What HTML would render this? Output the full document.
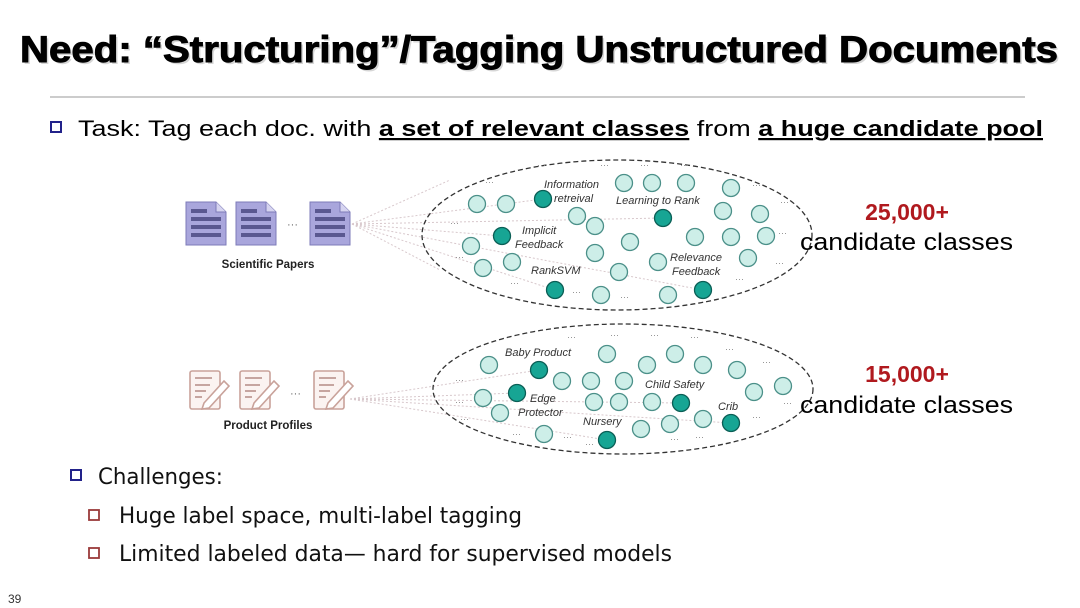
<!DOCTYPE html>
<html><head><meta charset="utf-8"><style>
html,body{margin:0;padding:0;background:#fff;}
svg{display:block;}
</style></head><body>
<svg width="1080" height="608" viewBox="0 0 1080 608" xmlns="http://www.w3.org/2000/svg" font-family="Liberation Sans, sans-serif">
<defs>
<g id="paper">
<path d="M0,0 H30 L40,10 V43 H0 Z" fill="#a9a6dc" stroke="#7d7bb8" stroke-width="1"/>
<path d="M30,0 V10 H40" fill="#d6d4f0" stroke="#7d7bb8"/>
<rect x="5" y="7" width="16" height="4" fill="#5a5890"/>
<rect x="5" y="15" width="30" height="4" fill="#5a5890"/>
<rect x="5" y="23" width="30" height="4" fill="#5a5890"/>
<rect x="5" y="31" width="30" height="4" fill="#5a5890"/>
</g>
<g id="prod" fill="none" stroke="#c9a29a" stroke-width="1.6">
<rect x="0" y="0" width="30" height="38" rx="2" fill="#fbf3f1"/>
<path d="M5,7 H22 M5,14 H20 M5,20 H16 M5,26 H12" stroke="#b48b85"/>
<path d="M14,32 L34,10 L39,15 L19,37 L12,38 Z" fill="#fff"/>
</g>
</defs>
<!-- title -->
<text x="541" y="64" font-size="37" font-weight="bold" fill="#bbb" textLength="1038" lengthAdjust="spacingAndGlyphs" text-anchor="middle" opacity="0.6">Need: “Structuring”/Tagging Unstructured Documents</text>
<text x="539" y="62" font-size="37" font-weight="bold" fill="#000" textLength="1038" lengthAdjust="spacingAndGlyphs" text-anchor="middle" stroke="#000" stroke-width="1">Need: “Structuring”/Tagging Unstructured Documents</text>
<line x1="50" y1="97" x2="1025" y2="97" stroke="#999" stroke-width="1"/>
<!-- task -->
<rect x="51" y="122" width="10" height="10" fill="none" stroke="#22228a" stroke-width="2"/>
<text x="78" y="136" font-size="22" fill="#000" textLength="965" lengthAdjust="spacingAndGlyphs">Task: Tag each doc. with <tspan font-weight="bold" text-decoration="underline">a set of relevant classes</tspan> from <tspan font-weight="bold" text-decoration="underline">a huge candidate pool</tspan></text>

<!-- papers -->
<use href="#paper" x="186" y="202"/>
<use href="#paper" x="236" y="202"/>
<text x="287" y="228" font-size="11" fill="#666">···</text>
<use href="#paper" x="310" y="202"/>
<text x="268" y="268" font-size="11.5" font-weight="bold" fill="#222" text-anchor="middle">Scientific Papers</text>
<g stroke="#d8c8cc" stroke-width="1" stroke-dasharray="2,2">
<line x1="352" y1="224" x2="543" y2="199"/><line x1="352" y1="224" x2="502" y2="236"/><line x1="352" y1="224" x2="663" y2="218"/><line x1="352" y1="224" x2="555" y2="290"/><line x1="352" y1="224" x2="703" y2="290"/><line x1="352" y1="224" x2="450" y2="180"/><line x1="352" y1="224" x2="440" y2="270"/>
</g>
<ellipse cx="617" cy="235" rx="195" ry="75" fill="none" stroke="#333" stroke-width="1.3" stroke-dasharray="5,3"/>
<g fill="#cdeee8" stroke="#4b9089" stroke-width="1.3">
<circle cx="477" cy="204" r="8.5"/><circle cx="506" cy="204" r="8.5"/><circle cx="624" cy="183" r="8.5"/><circle cx="652" cy="183" r="8.5"/><circle cx="686" cy="183" r="8.5"/><circle cx="731" cy="188" r="8.5"/><circle cx="577" cy="216" r="8.5"/><circle cx="595" cy="226" r="8.5"/><circle cx="723" cy="211" r="8.5"/><circle cx="760" cy="214" r="8.5"/><circle cx="471" cy="246" r="8.5"/><circle cx="595" cy="253" r="8.5"/><circle cx="630" cy="242" r="8.5"/><circle cx="695" cy="237" r="8.5"/><circle cx="731" cy="237" r="8.5"/><circle cx="766" cy="236" r="8.5"/><circle cx="483" cy="268" r="8.5"/><circle cx="512" cy="262" r="8.5"/><circle cx="619" cy="272" r="8.5"/><circle cx="658" cy="262" r="8.5"/><circle cx="748" cy="258" r="8.5"/><circle cx="601" cy="295" r="8.5"/><circle cx="668" cy="295" r="8.5"/>
</g>
<g fill="#17a594" stroke="#0b5f56" stroke-width="1.3">
<circle cx="543" cy="199" r="8.5"/><circle cx="502" cy="236" r="8.5"/><circle cx="663" cy="218" r="8.5"/><circle cx="555" cy="290" r="8.5"/><circle cx="703" cy="290" r="8.5"/>
</g>
<g font-size="11" font-style="italic" fill="#333">
<text x="544" y="188">Information</text><text x="554" y="202">retreival</text>
<text x="616" y="204">Learning to Rank</text>
<text x="522" y="234">Implicit</text><text x="515" y="248">Feedback</text>
<text x="531" y="274">RankSVM</text>
<text x="670" y="261">Relevance</text><text x="672" y="275">Feedback</text>
</g>
<g font-size="9" fill="#888">
<text x="485" y="185">···</text><text x="537" y="168">···</text><text x="600" y="168">···</text><text x="640" y="168">···</text><text x="680" y="168">···</text><text x="752" y="188">···</text><text x="780" y="205">···</text><text x="450" y="226">···</text><text x="778" y="236">···</text><text x="775" y="266">···</text><text x="735" y="282">···</text><text x="455" y="260">···</text><text x="510" y="286">···</text><text x="572" y="295">···</text><text x="620" y="300">···</text>
</g>
<text x="907" y="220" font-size="23" font-weight="bold" fill="#b0191e" text-anchor="middle">25,000+</text>
<text x="800" y="250" font-size="24" fill="#000" textLength="213" lengthAdjust="spacingAndGlyphs">candidate classes</text>

<!-- products -->
<use href="#prod" x="190" y="371"/>
<use href="#prod" x="240" y="371"/>
<text x="290" y="397" font-size="11" fill="#666">···</text>
<use href="#prod" x="314" y="371"/>
<text x="268" y="429" font-size="11.5" font-weight="bold" fill="#222" text-anchor="middle">Product Profiles</text>
<g stroke="#d8c8cc" stroke-width="1" stroke-dasharray="2,2">
<line x1="350" y1="399" x2="539" y2="370"/><line x1="350" y1="399" x2="517" y2="393"/><line x1="350" y1="399" x2="607" y2="440"/><line x1="350" y1="399" x2="681" y2="403"/><line x1="350" y1="399" x2="731" y2="423"/>
</g>
<ellipse cx="623" cy="389" rx="190" ry="65" fill="none" stroke="#333" stroke-width="1.3" stroke-dasharray="5,3"/>
<g fill="#cdeee8" stroke="#4b9089" stroke-width="1.3">
<circle cx="489" cy="365" r="8.5"/><circle cx="607" cy="354" r="8.5"/><circle cx="647" cy="365" r="8.5"/><circle cx="675" cy="354" r="8.5"/><circle cx="703" cy="365" r="8.5"/><circle cx="737" cy="370" r="8.5"/><circle cx="562" cy="381" r="8.5"/><circle cx="591" cy="381" r="8.5"/><circle cx="624" cy="381" r="8.5"/><circle cx="754" cy="392" r="8.5"/><circle cx="783" cy="386" r="8.5"/><circle cx="483" cy="398" r="8.5"/><circle cx="594" cy="402" r="8.5"/><circle cx="619" cy="402" r="8.5"/><circle cx="652" cy="402" r="8.5"/><circle cx="500" cy="413" r="8.5"/><circle cx="670" cy="424" r="8.5"/><circle cx="703" cy="419" r="8.5"/><circle cx="544" cy="434" r="8.5"/><circle cx="641" cy="429" r="8.5"/>
</g>
<g fill="#17a594" stroke="#0b5f56" stroke-width="1.3">
<circle cx="539" cy="370" r="8.5"/><circle cx="517" cy="393" r="8.5"/><circle cx="681" cy="403" r="8.5"/><circle cx="607" cy="440" r="8.5"/><circle cx="731" cy="423" r="8.5"/>
</g>
<g font-size="11" font-style="italic" fill="#333">
<text x="505" y="356">Baby Product</text>
<text x="645" y="388">Child Safety</text>
<text x="530" y="402">Edge</text><text x="518" y="416">Protector</text>
<text x="718" y="410">Crib</text>
<text x="583" y="425">Nursery</text>
</g>
<g font-size="9" fill="#888">
<text x="567" y="340">···</text><text x="610" y="338">···</text><text x="650" y="338">···</text><text x="690" y="340">···</text><text x="725" y="352">···</text><text x="762" y="365">···</text><text x="455" y="383">···</text><text x="455" y="405">···</text><text x="783" y="406">···</text><text x="752" y="420">···</text><text x="460" y="422">···</text><text x="512" y="437">···</text><text x="563" y="440">···</text><text x="585" y="447">···</text><text x="695" y="440">···</text><text x="670" y="442">···</text>
</g>
<text x="907" y="382" font-size="23" font-weight="bold" fill="#b0191e" text-anchor="middle">15,000+</text>
<text x="800" y="413" font-size="24" fill="#000" textLength="213" lengthAdjust="spacingAndGlyphs">candidate classes</text>

<!-- challenges -->
<rect x="71" y="470" width="10" height="10" fill="none" stroke="#22228a" stroke-width="2"/>
<text x="98" y="484" font-size="22" fill="#111" font-family="DejaVu Sans, sans-serif" textLength="125" lengthAdjust="spacingAndGlyphs">Challenges:</text>
<rect x="89" y="510" width="10" height="10" fill="none" stroke="#9a3a3a" stroke-width="1.8"/>
<text x="119" y="523" font-size="22" fill="#111" font-family="DejaVu Sans, sans-serif" textLength="403" lengthAdjust="spacingAndGlyphs">Huge label space, multi-label tagging</text>
<rect x="89" y="548" width="10" height="10" fill="none" stroke="#9a3a3a" stroke-width="1.8"/>
<text x="119" y="561" font-size="22" fill="#111" font-family="DejaVu Sans, sans-serif" textLength="553" lengthAdjust="spacingAndGlyphs">Limited labeled data— hard for supervised models</text>
<text x="8" y="603" font-size="12" fill="#333">39</text>
</svg>
</body></html>
